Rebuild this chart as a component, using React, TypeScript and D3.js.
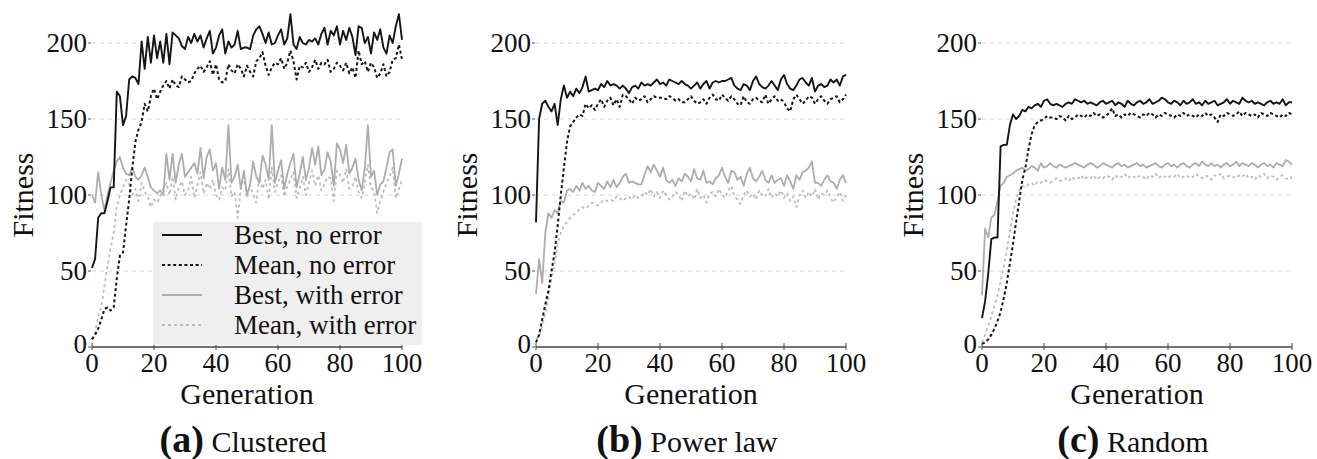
import React from "react";
import * as d3 from "d3";

const generations = d3.range(0, 101);
const yTicks = [0, 50, 100, 150, 200];
const xTicks = [0, 20, 40, 60, 80, 100];
const seriesNames = ["Best, no error", "Mean, no error", "Best, with error", "Mean, with error"];
const panelLetters = ["(a)", "(b)", "(c)"];
const panelTitles = ["Clustered", "Power law", "Random"];

const aBest = [
  52, 58, 85, 88, 88, 96, 105, 105, 168, 165,
  146, 152, 176, 178, 177, 173, 201, 183, 204, 187,
  205, 190, 201, 187, 206, 186, 207, 205, 203, 198,
  196, 204, 200, 206, 201, 205, 197, 203, 208, 193,
  197, 205, 209, 193, 201, 197, 199, 208, 196, 197,
  197, 196, 205, 209, 211, 206, 200, 207, 199, 200,
  205, 209, 199, 203, 219, 199, 196, 204, 200, 199,
  202, 201, 203, 199, 206, 210, 199, 208, 205, 211,
  199, 208, 202, 210, 204, 192, 211, 210, 200, 204,
  193, 207, 202, 209, 197, 193, 205, 200, 211, 219,
  202,
];
const aMean = [
  5, 8, 12, 18, 25, 26, 24, 26, 45, 60,
  62, 80, 97, 118, 135, 143, 148, 160, 155, 165,
  170, 163, 168, 172, 175, 170, 176, 172, 171, 178,
  176, 174, 175, 180, 183, 185, 181, 184, 188, 179,
  186, 176, 174, 175, 186, 182, 180, 186, 183, 178,
  185, 181, 178, 188, 190, 194, 185, 179, 184, 187,
  186, 190, 183, 187, 195, 188, 176, 185, 184, 187,
  181, 184, 189, 183, 187, 186, 189, 181, 183, 187,
  185, 182, 187, 180, 184, 177, 195, 186, 188, 181,
  187, 184, 177, 180, 186, 178, 181, 189, 190, 199,
  189,
];
const aBestErr = [
  100, 95, 115, 100, 90, 100, 108, 116, 122, 125,
  118, 114, 113, 118, 112, 110, 113, 118, 112, 105,
  103, 101, 103, 100, 127, 110, 127, 108, 120, 127,
  112, 115, 118, 121, 114, 131, 111, 125, 130, 116,
  121, 104, 118, 110, 146, 108, 112, 120, 104, 116,
  100, 107, 122, 112, 108, 126, 120, 110, 146, 108,
  116, 123, 104, 114, 121, 127, 105, 114, 125, 110,
  118, 131, 120, 132, 113, 117, 128, 122, 106, 134,
  130, 121, 133, 114, 118, 124, 110, 103, 118, 146,
  112, 116, 100, 107, 109, 118, 128, 130, 106, 114,
  124,
];
const aMeanErr = [
  5, 10, 20, 27, 40, 53, 65, 75, 92, 100,
  105, 110, 107, 100, 104, 96, 108, 102, 99, 92,
  97, 95, 99, 104, 108, 100, 112, 97, 105, 109,
  100, 103, 112, 98, 106, 115, 101, 108, 104, 110,
  100, 97, 105, 103, 117, 99, 102, 85, 104, 112,
  98, 107, 100, 95, 112, 104, 110, 97, 118, 102,
  108, 113, 99, 106, 110, 115, 98, 104, 112, 100,
  108, 116, 106, 113, 103, 107, 112, 111, 96, 116,
  113, 108, 117, 104, 106, 112, 102, 98, 108, 120,
  105, 103, 88, 96, 102, 108, 112, 118, 98, 104,
  110,
];

const bBest = [
  82, 150, 160, 162, 158, 155, 160, 146, 163, 172,
  164, 168, 165, 170, 167, 171, 178, 168, 169, 170,
  169, 173, 171, 175, 172, 173, 172, 170, 172, 170,
  167, 171, 172, 170, 174, 172, 173, 172, 174, 176,
  173, 174, 172, 176, 175, 174, 173, 175, 173, 172,
  170, 172, 174, 170, 173, 175, 170, 174, 175, 174,
  175, 175, 176, 177, 172, 170, 169, 173, 172, 169,
  175, 178, 173, 171, 170, 172, 175, 172, 169, 176,
  179, 173, 170, 169, 172, 176, 177, 174, 172, 177,
  168, 172, 173, 171, 172, 176, 174, 176, 172, 178,
  179,
];
const bMean = [
  3, 8, 18, 28, 37, 50, 62, 80, 100, 118,
  135, 145, 148, 151, 153, 152, 160, 157, 159, 156,
  160, 163, 158, 162, 164, 159, 163, 158, 166, 165,
  163, 160, 164, 162, 163, 165, 161, 163, 165, 164,
  164, 164, 163, 165, 164, 162, 163, 161, 161, 163,
  165, 162, 160, 161, 163, 160, 164, 166, 163, 162,
  166, 164, 162, 165, 163, 160, 159, 165, 161, 160,
  163, 164, 162, 161, 166, 160, 163, 165, 162, 163,
  161, 157, 155, 163, 166, 163, 160, 162, 165, 164,
  160, 163, 165, 162, 160, 163, 164, 165, 161, 163,
  166,
];
const bBestErr = [
  35, 58, 42, 75, 88, 85, 90, 88, 96, 95,
  103, 104, 102, 106, 103, 108, 104, 106, 103, 102,
  108, 106, 104, 109, 105, 110, 105, 108, 112, 114,
  108, 109, 108, 107, 107, 113, 119, 115, 120, 116,
  112, 118, 110, 108, 110, 106, 111, 109, 114, 112,
  109, 117, 111, 110, 116, 108, 109, 107, 111, 113,
  118, 112, 108, 116, 115, 110, 112, 106, 114, 118,
  111, 109, 112, 116, 110, 108, 113, 108, 110, 111,
  106, 113, 109, 104, 113, 110, 115, 116, 118, 122,
  108, 108, 106, 110, 113, 109, 108, 104, 110, 113,
  108,
];
const bMeanErr = [
  5, 7, 14, 22, 32, 45, 55, 68, 75, 80,
  82, 85, 87, 88, 91, 92, 91, 93, 95, 94,
  93, 95, 97, 96, 97, 96, 99, 98, 96, 98,
  99, 97, 100, 98, 99, 102, 100, 104, 99, 102,
  98, 103, 100, 97, 99, 102, 100, 96, 103, 99,
  101, 97, 104, 98, 100, 95, 101, 102, 99, 104,
  100, 98, 103, 106, 99, 97, 94, 100, 103, 99,
  101, 97, 103, 100, 99, 104, 98, 101, 99, 103,
  98, 101, 96, 99, 92, 100, 103, 98, 102, 99,
  104, 97, 101, 100, 103, 98, 95, 99, 102, 96,
  100,
];

const cBest = [
  19, 30, 48, 71, 72, 72, 132, 133, 133, 146,
  153, 150, 152, 156, 155, 158, 157, 159, 160, 158,
  162, 163, 160, 159, 160, 159, 158, 160, 161, 160,
  163, 162, 161, 162, 160, 161, 160, 159, 161, 162,
  160, 161, 162, 159, 161, 160, 158, 162, 160, 159,
  161, 162, 160, 161, 163, 160, 161, 162, 164, 163,
  161, 160, 162, 161, 159, 162, 160, 161, 163, 160,
  161, 159, 162, 160, 161, 162, 159, 160, 161, 163,
  160, 162, 161, 160, 164, 162, 161, 162, 160, 161,
  160, 159, 161, 162, 160, 161, 160, 163, 159, 161,
  161,
];
const cMean = [
  2, 3, 5, 8, 12, 17, 23, 32, 42, 55,
  68, 82, 96, 110, 118, 130, 140, 146, 148, 149,
  150, 152, 151, 151, 150, 152, 151, 149, 152, 150,
  151, 153, 152, 151, 153, 152, 154, 152, 153, 151,
  152, 154, 157, 152, 153, 151, 153, 152, 154, 153,
  152, 151, 153, 152, 154, 153, 151, 153, 152, 154,
  153, 152, 151, 153, 152, 154, 152, 153, 152, 151,
  153, 152, 154, 152, 153, 151, 148, 153, 152, 154,
  153, 152, 153, 155, 152, 154, 153, 152, 153, 151,
  154, 153, 152, 154, 153, 152, 151, 153, 152, 154,
  153,
];
const cBestErr = [
  34, 78, 72, 85, 87, 96, 106, 108, 112, 113,
  114, 116, 117, 118, 116, 117, 119, 118, 116, 121,
  118, 119, 121, 119, 118, 120, 119, 118, 119, 120,
  121, 120, 119, 118, 120, 121, 120, 118, 119, 121,
  120, 119, 118, 120, 121, 119, 120, 118, 119, 120,
  121, 119, 120, 118, 119, 120, 121, 119, 118, 120,
  121, 119, 120, 118, 120, 121, 119, 118, 120, 121,
  119, 122, 120, 119, 121, 119, 120, 118, 120, 121,
  119, 120, 122, 119, 121, 120, 119, 121, 120, 118,
  120, 121, 119, 120, 118, 121, 120, 119, 123, 122,
  120,
];
const cMeanErr = [
  3, 8, 14, 20, 27, 34, 43, 53, 64, 76,
  88, 97, 103, 106, 105, 107, 108, 106, 109, 108,
  110, 109, 108, 110, 111, 109, 110, 111, 109, 112,
  110, 111, 113, 110, 112, 111, 113, 110, 112, 111,
  113, 112, 110, 113, 111, 112, 114, 111, 113, 112,
  111, 113, 112, 110, 113, 112, 114, 111, 113, 112,
  111, 113, 112, 114, 111, 112, 113, 111, 112, 114,
  112, 111, 113, 112, 110, 113, 112, 114, 111, 112,
  113, 112, 111, 113, 112, 114, 111, 112, 110, 113,
  112, 114, 111, 113, 112, 110, 112, 113, 111, 110,
  112,
];

const panelSeries = [
  [aBest, aMean, aBestErr, aMeanErr],
  [bBest, bMean, bBestErr, bMeanErr],
  [cBest, cMean, cBestErr, cMeanErr],
];

const styles = [
  { stroke: "#151515", width: 1.9, dash: null },
  { stroke: "#151515", width: 2, dash: "3,2.6" },
  { stroke: "#adadad", width: 1.8, dash: null },
  { stroke: "#bdbdbd", width: 1.8, dash: "3,3" },
];

const panelLefts = [92, 536, 982];
const plotW = 310;
const y0 = 347;
const y200 = 43;

function T(props: any) {
  const { children, ...rest } = props;
  return (
    <text {...rest} fill="#111" style={{ fontFamily: "Liberation Serif" }}>
      {children}
    </text>
  );
}

function Panel({ idx }: { idx: number }) {
  const left = panelLefts[idx];
  const x = d3.scaleLinear().domain([0, 100]).range([left, left + plotW]);
  const y = d3.scaleLinear().domain([0, 200]).range([y0, y200]);
  const series = panelSeries[idx];
  const line = (vals: number[]) =>
    d3
      .line<number>()
      .x((_, i) => x(generations[i]))
      .y((v) => y(v))(vals) || "";
  const cx = left + plotW / 2;
  return (
    <g>
      {yTicks.slice(1).map((t) => (
        <line key={"g" + t} x1={x(0)} x2={x(100) + 2} y1={y(t)} y2={y(t)} stroke="#d6d6d6" strokeWidth={1} strokeDasharray="4,4" />
      ))}
      {yTicks.map((t) => (
        <g key={"yt" + t}>
          <line x1={x(0) - 4} x2={x(0) - 1} y1={y(t)} y2={y(t)} stroke="#555" strokeWidth={1} />
          <T x={x(0) - 5} y={y(t) - (t === 0 ? 3 : 0) + 9} textAnchor="end" fontSize={27}>
            {t}
          </T>
        </g>
      ))}
      {[...series].reverse().map((vals, ri) => {
        const si = series.length - 1 - ri;
        const st = styles[si];
        return (
          <path key={"s" + si} d={line(vals)} fill="none" stroke={st.stroke} strokeWidth={st.width} strokeDasharray={st.dash || undefined} strokeLinejoin="round" />
        );
      })}
      <line x1={x(0)} x2={x(100)} y1={y0} y2={y0} stroke="#444" strokeWidth={1.6} />
      {xTicks.map((t) => (
        <g key={"xt" + t}>
          <line x1={x(t)} x2={x(t)} y1={y0 - 4} y2={y0 + 3} stroke="#444" strokeWidth={1} />
          <T x={x(t)} y={372} textAnchor="middle" fontSize={27}>
            {t}
          </T>
        </g>
      ))}
      <T x={cx} y={404} textAnchor="middle" fontSize={30}>
        Generation
      </T>
      <T transform={`translate(${left - 59},${195}) rotate(-90)`} textAnchor="middle" fontSize={30}>
        Fitness
      </T>
      <T x={cx - 4} y={452} textAnchor="middle">
        <tspan fontWeight="bold" fontSize={38}>{panelLetters[idx]}</tspan>
        <tspan fontSize={30}>{" " + panelTitles[idx]}</tspan>
      </T>
      {idx === 0 && (
        <g>
          <rect x={153} y={222} width={269} height={123} fill="#efefef" />
          {seriesNames.map((name, i) => {
            const st = styles[i];
            const ly = 235 + i * 30;
            return (
              <g key={name}>
                <line x1={162} x2={202} y1={ly} y2={ly} stroke={st.stroke} strokeWidth={st.width} strokeDasharray={st.dash || undefined} />
                <T x={234} y={ly + 9} fontSize={27}>
                  {name}
                </T>
              </g>
            );
          })}
        </g>
      )}
    </g>
  );
}

export default function App() {
  return (
    <svg width={1317} height={459} style={{ position: "absolute", left: 0, top: 0 }}>
      {[0, 1, 2].map((i) => (
        <Panel key={i} idx={i} />
      ))}
    </svg>
  );
}
